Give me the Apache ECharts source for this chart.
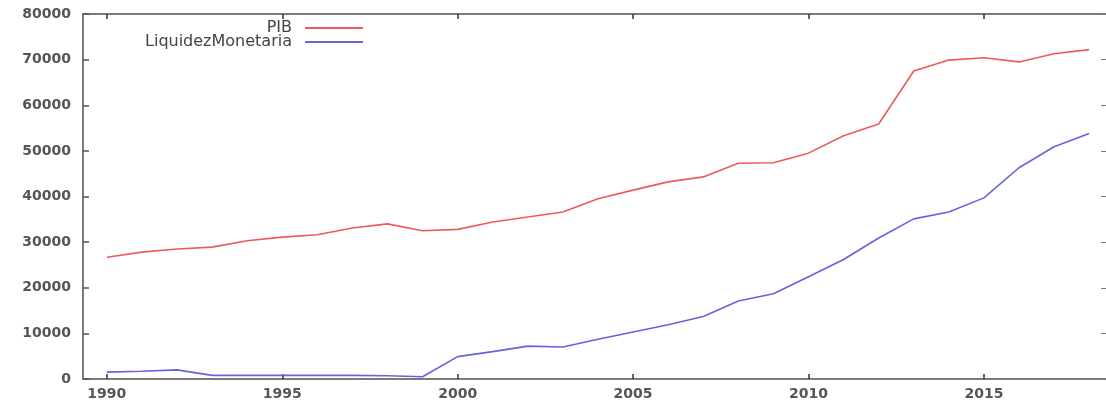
<!DOCTYPE html>
<html>
<head>
<meta charset="utf-8">
<script src="https://cdn.jsdelivr.net/npm/echarts@6/dist/echarts.min.js"></script>
<style>html,body{margin:0;padding:0;background:#fff}#c{width:1106px;height:402px}</style>
</head>
<body>
<div id="c"></div>
<script>
const years = [1990,1991,1992,1993,1994,1995,1996,1997,1998,1999,2000,2001,2002,2003,2004,2005,2006,2007,2008,2009,2010,2011,2012,2013,2014,2015,2016,2017,2018];
const pib = [26700,27800,28500,28900,30300,31100,31600,33100,34000,32500,32800,34400,35500,36600,39500,41400,43200,44300,47300,47400,49500,53300,55900,67500,69900,70400,69500,71300,72200];
const liquidez = [1500,1700,2000,800,800,800,800,800,700,500,4900,6000,7200,7000,8700,10300,11900,13700,17100,18700,22400,26200,30900,35100,36600,39700,46300,50900,53800];
const xTicks = [1990,1995,2000,2005,2010,2015];
const seriesNames = ['PIB','LiquidezMonetaria'];

const chart = echarts.init(document.getElementById('c'));
const axisCol = '#7a7a7a';
const labelStyle = {color:'#555', fontFamily:'DejaVu Sans', fontSize:14, fontWeight:'bold'};
const legendBase = {
  orient:'vertical', right:738, itemWidth:58, itemHeight:2, itemGap:0,
  align:'right', icon:'rect', selectedMode:false,
  textStyle:{color:'#444', fontFamily:'DejaVu Sans', fontSize:16, padding:[0,8,0,0]}
};
chart.setOption({
  animation:false,
  backgroundColor:'#fff',
  grid:{left:83, top:14, right:0, bottom:23},
  legend:[
    Object.assign({}, legendBase, {data:[seriesNames[0]], top:15}),
    Object.assign({}, legendBase, {data:[seriesNames[1]], top:29})
  ],
  xAxis:[
    {type:'value', min:1989.32, max:2018.48, position:'bottom',
     axisLine:{onZero:false, lineStyle:{color:axisCol, width:2}},
     axisTick:{inside:true, length:5, customValues:xTicks, lineStyle:{color:'#333', width:1.5}},
     axisLabel:Object.assign({customValues:xTicks, margin:8, formatter:v=>String(v)}, labelStyle),
     splitLine:{show:false}},
    {type:'value', min:1989.32, max:2018.48, position:'top',
     axisLine:{onZero:false, lineStyle:{color:axisCol, width:2}},
     axisTick:{inside:true, length:5, customValues:xTicks, lineStyle:{color:'#333', width:1.5}},
     axisLabel:{show:false}, splitLine:{show:false}}
  ],
  yAxis:[
    {type:'value', min:0, max:80000, interval:10000, position:'left',
     axisLine:{show:true, onZero:false, lineStyle:{color:axisCol, width:2}},
     axisTick:{show:true, inside:true, length:6, lineStyle:{color:'#555', width:1.5}},
     axisLabel:Object.assign({margin:12, formatter:v=>String(v)}, labelStyle),
     splitLine:{show:false}},
    {type:'value', min:0, max:80000, interval:10000, position:'right',
     axisLine:{show:false},
     axisTick:{show:true, inside:true, length:5, lineStyle:{color:'#777', width:1}},
     axisLabel:{show:false}, splitLine:{show:false}}
  ],
  series:[
    {name:seriesNames[0], type:'line', showSymbol:false, xAxisIndex:0, yAxisIndex:0,
     itemStyle:{color:'#ee5a5a'}, lineStyle:{color:'#ee5a5a', width:1.6},
     data:years.map((y,i)=>[y,pib[i]])},
    {name:seriesNames[1], type:'line', showSymbol:false, xAxisIndex:0, yAxisIndex:0,
     itemStyle:{color:'#6464e0'}, lineStyle:{color:'#6464e0', width:1.6},
     data:years.map((y,i)=>[y,liquidez[i]])}
  ]
});
</script>
</body>
</html>
